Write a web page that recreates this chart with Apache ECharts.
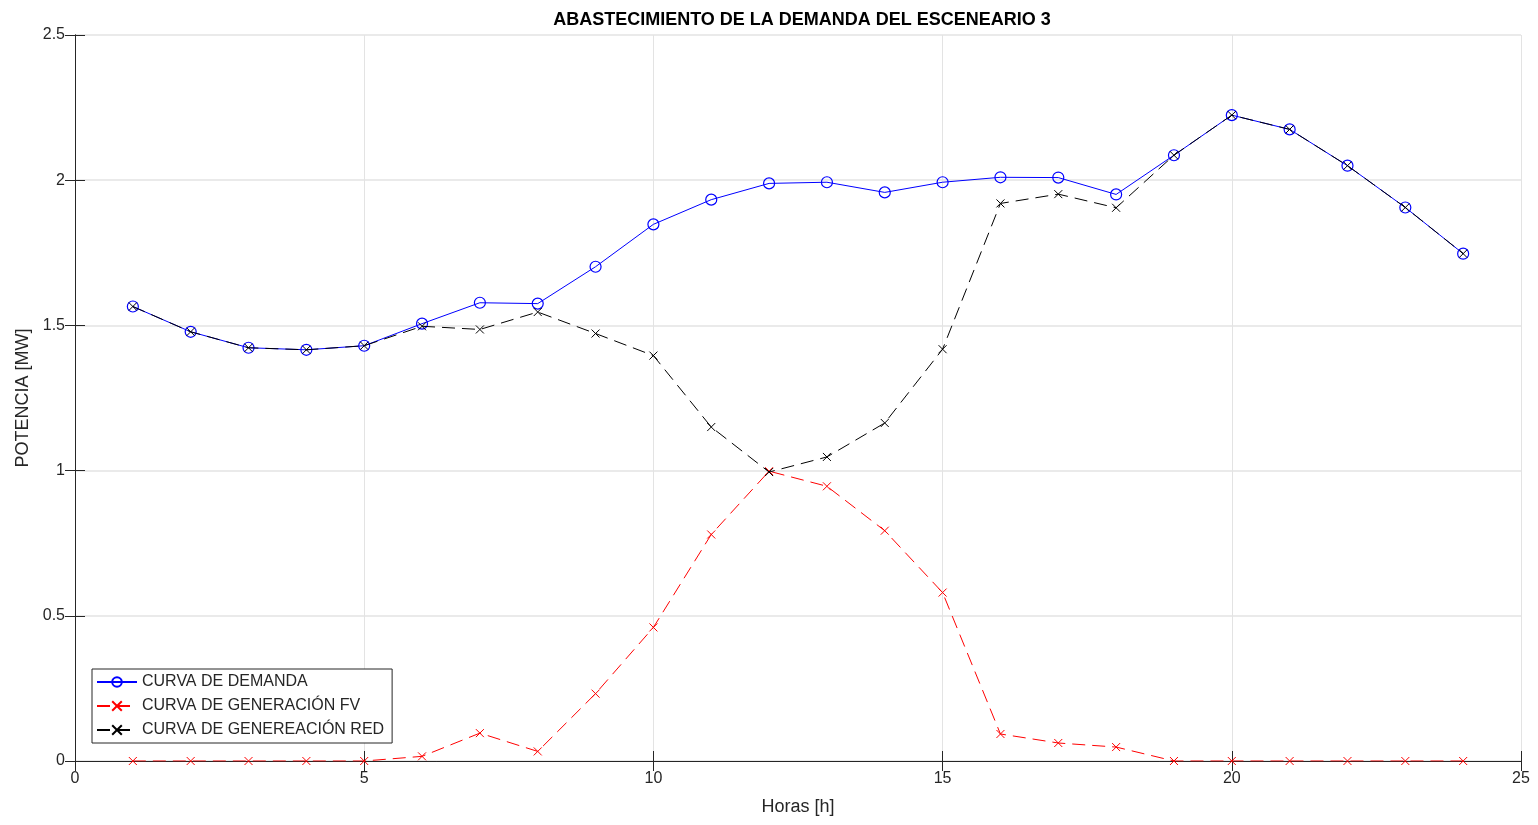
<!DOCTYPE html>
<html>
<head>
<meta charset="utf-8">
<script src="https://cdn.jsdelivr.net/npm/echarts@6/dist/echarts.min.js"></script>
<style>
  html, body { margin: 0; padding: 0; background: #fff; }
  #chart { width: 1538px; height: 825px; }
</style>
</head>
<body>
<div id="chart"></div>
<script>
// horas 1..24
const horas = [1, 2, 3, 4, 5, 6, 7, 8, 9, 10, 11, 12, 13, 14, 15, 16, 17, 18, 19, 20, 21, 22, 23, 24]
const demanda = [1.565, 1.478, 1.423, 1.416, 1.430, 1.506, 1.578, 1.575, 1.702, 1.848, 1.933, 1.989, 1.993, 1.958, 1.993, 2.010, 2.009, 1.951, 2.086, 2.224, 2.175, 2.050, 1.906, 1.747]
const genFV = [0, 0, 0, 0, 0, 0.016, 0.096, 0.033, 0.232, 0.460, 0.780, 0.998, 0.946, 0.793, 0.580, 0.093, 0.062, 0.048, 0, 0, 0, 0, 0, 0]
const genRed = [1.565, 1.478, 1.423, 1.416, 1.430, 1.497, 1.486, 1.546, 1.472, 1.396, 1.150, 0.995, 1.047, 1.164, 1.418, 1.920, 1.952, 1.905, 2.086, 2.224, 2.175, 2.050, 1.906, 1.747]

const seriesNames = ['CURVA DE DEMANDA', 'CURVA DE GENERACIÓN FV', 'CURVA DE GENEREACIÓN RED']

const cross = 'path://M0,0L10,10M10,0L0,10'
const font = '"Liberation Sans", Arial, Helvetica, sans-serif'

const toPairs = (arr) => horas.map((h, i) => [h, arr[i]])

const chart = echarts.init(document.getElementById('chart'))

const options = {
    backgroundColor: '#fff',
    animation: false,
    // 标题
    title: {
        text: 'ABASTECIMIENTO DE LA DEMANDA DEL ESCENEARIO 3',
        left: 797,
        textAlign: 'center',
        top: 6,
        textStyle: { fontFamily: font, fontSize: 18, fontWeight: 'bold', color: '#000' }
    },
    legend: {
        data: seriesNames,
        orient: 'vertical',
        left: 92,
        top: 669,
        itemGap: 8,
        itemWidth: 40,
        itemHeight: 12,
        padding: [5, 8, 5, 4],
        borderColor: '#262626',
        borderWidth: 1,
        borderRadius: 0,
        backgroundColor: '#fff',
        textStyle: { fontFamily: font, fontSize: 16, color: '#262626' }
    },
    grid: { left: 75, right: 17, top: 35, bottom: 64 },
    xAxis: [{
        type: 'value',
        min: 0, max: 25, interval: 5,
        name: 'Horas [h]',
        nameLocation: 'middle',
        nameGap: 37,
        nameTextStyle: { fontFamily: font, fontSize: 18, color: '#262626' },
        axisLine: { lineStyle: { color: '#262626', width: 1 } },
        axisTick: { inside: true, length: 10, lineStyle: { color: '#262626' } },
        axisLabel: { fontFamily: font, fontSize: 16, color: '#262626', margin: 10 },
        splitLine: { show: true, lineStyle: { color: '#e3e3e3', width: 1 } }
    }, {
        type: 'value', position: 'top',
        min: 0, max: 25, interval: 5,
        axisLine: { lineStyle: { color: '#262626' } },
        axisTick: { inside: true, length: 10, lineStyle: { color: '#262626' } },
        axisLabel: { show: false },
        splitLine: { show: false }
    }],
    yAxis: [{
        type: 'value',
        min: 0, max: 2.5, interval: 0.5,
        name: 'POTENCIA [MW]',
        nameLocation: 'middle',
        nameGap: 43,
        nameTextStyle: { fontFamily: font, fontSize: 18, color: '#262626' },
        axisLine: { show: true, lineStyle: { color: '#262626', width: 1 } },
        axisTick: { show: true, inside: true, length: 10, lineStyle: { color: '#262626' } },
        axisLabel: { fontFamily: font, fontSize: 16, color: '#262626', margin: 10 },
        splitLine: { show: true, lineStyle: { color: '#e3e3e3', width: 1.5 } }
    }, {
        type: 'value', position: 'right',
        min: 0, max: 2.5, interval: 0.5,
        axisLine: { show: true, lineStyle: { color: '#262626' } },
        axisTick: { show: true, inside: true, length: 10, lineStyle: { color: '#262626' } },
        axisLabel: { show: false },
        splitLine: { show: false }
    }],
    series: [
        {
            name: seriesNames[0],
            type: 'line',
            data: toPairs(demanda),
            symbol: 'circle',
            symbolSize: 11,
            showAllSymbol: true,
            lineStyle: { color: '#0000ff', width: 1 },
            itemStyle: { color: 'rgba(0,0,0,0)', borderColor: '#0000ff', borderWidth: 1.2 },
            z: 2
        },
        {
            name: seriesNames[1],
            type: 'line',
            data: toPairs(genFV),
            symbol: cross,
            symbolSize: 8,
            lineStyle: { color: '#ff0000', width: 1, type: [13, 7] },
            itemStyle: { color: 'none', borderColor: '#ff0000', borderWidth: 1 },
            z: 3
        },
        {
            name: seriesNames[2],
            type: 'line',
            data: toPairs(genRed),
            symbol: cross,
            symbolSize: 8,
            lineStyle: { color: '#000000', width: 1, type: [13, 7] },
            itemStyle: { color: 'none', borderColor: '#000000', borderWidth: 1 },
            z: 4
        }
    ]
}

chart.setOption(options)
</script>
</body>
</html>
